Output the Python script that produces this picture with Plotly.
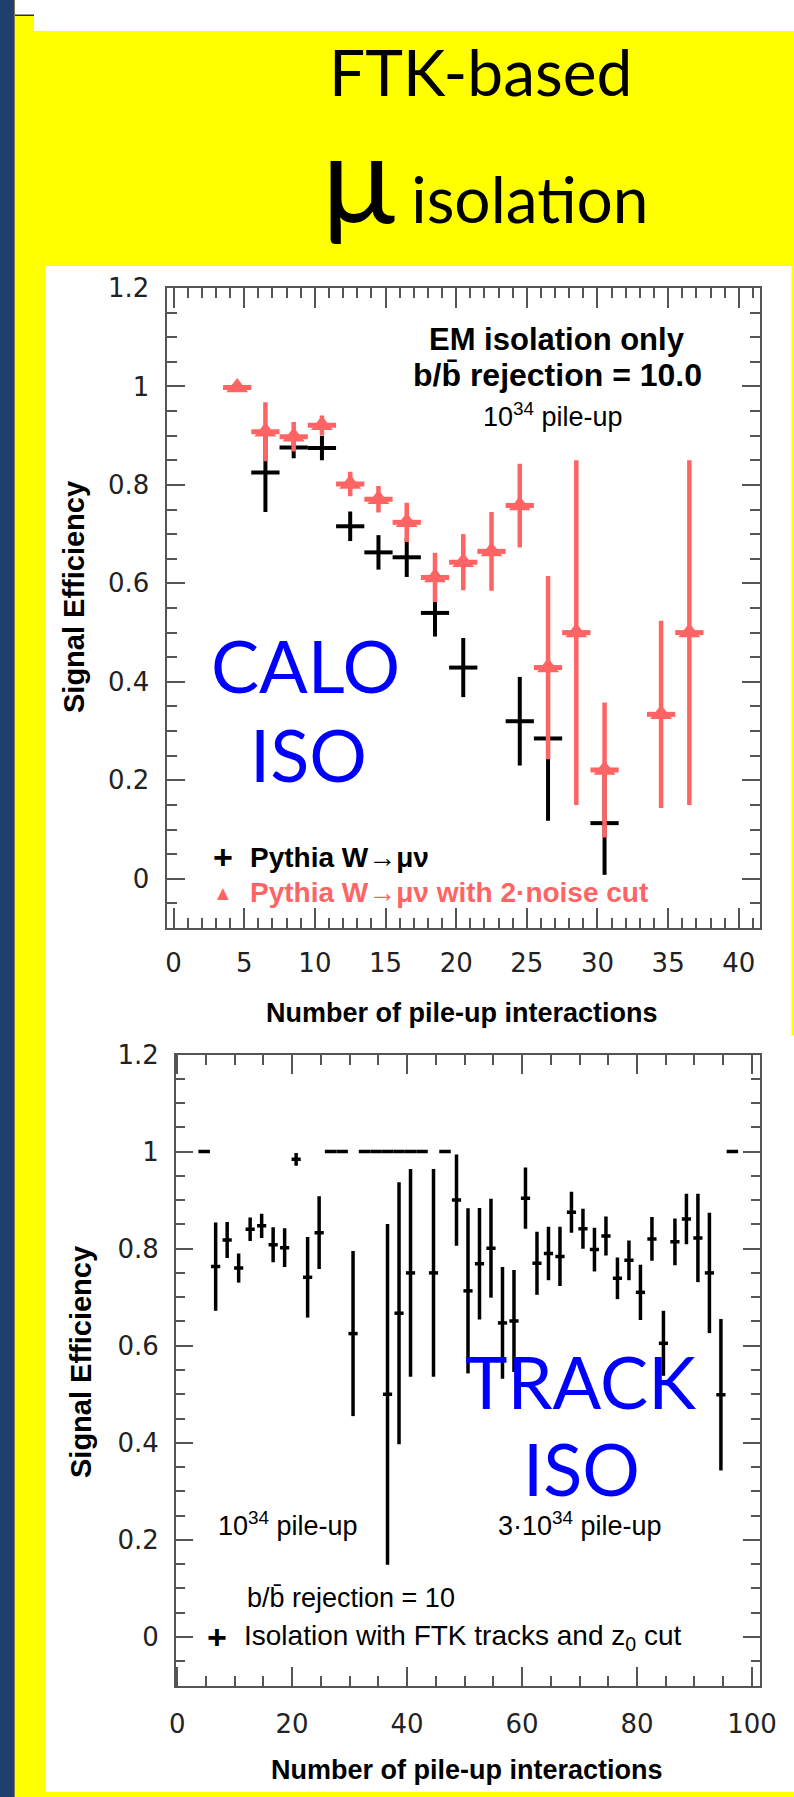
import plotly.graph_objects as go

W, H = 794, 1797

# ---------------- data: top panel (calorimeter isolation) ----------------
calo_x = [6.5, 8.5, 10.5, 12.5, 14.5, 16.5, 18.5, 20.5, 24.5, 26.5, 30.5]
calo_y = [0.825, 0.876, 0.875, 0.716, 0.663, 0.653, 0.540, 0.429, 0.320, 0.285, 0.113]
calo_err = [0.080, 0.022, 0.025, 0.030, 0.035, 0.040, 0.048, 0.060, 0.090, 0.167, 0.105]

noise_x = [4.5, 6.5, 8.5, 10.5, 12.5, 14.5, 16.5, 18.5, 20.5, 22.5, 24.5, 26.5, 28.5, 30.5, 34.5, 36.5]
noise_y = [0.998, 0.908, 0.898, 0.921, 0.802, 0.771, 0.724, 0.612, 0.643, 0.665, 0.758, 0.429, 0.500, 0.221, 0.334, 0.500]
noise_err = [0.0, 0.060, 0.030, 0.020, 0.025, 0.027, 0.040, 0.050, 0.057, 0.080, 0.085, 0.186, 0.350, 0.137, 0.190, 0.350]

# ---------------- data: bottom panel (track isolation) ----------------
low_x = [4.7, 6.7, 8.7, 10.7, 12.7, 14.7, 16.7, 18.7, 20.7, 22.7, 24.7, 26.7, 28.7, 30.6,
         32.6, 34.6, 36.6, 38.6, 40.6, 42.6, 46.6]
low_y = [1.0, 0.763, 0.818, 0.760, 0.840, 0.847, 0.808, 0.802, 0.984, 0.741, 0.833, 1.0, 1.0, 0.625,
         1.0, 1.0, 1.0, 1.0, 1.0, 1.0, 1.0]
low_err = [0.0, 0.091, 0.037, 0.030, 0.024, 0.025, 0.036, 0.040, 0.013, 0.083, 0.075, 0.0, 0.0, 0.170,
           0.0, 0.0, 0.0, 0.0, 0.0, 0.0, 0.0]

high_x = [36.6, 38.6, 40.6, 44.6, 48.6, 50.6, 52.6, 54.6, 56.6, 58.6, 60.6, 62.6, 64.6, 66.6, 68.6,
          70.6, 72.6, 74.6, 76.6, 78.6, 80.6, 82.6, 84.6, 86.6, 88.6, 90.6, 92.6, 94.6, 96.6]
high_y = [0.500, 0.667, 0.750, 0.750, 0.900, 0.713, 0.769, 0.801, 0.647, 0.651, 0.904, 0.770, 0.790,
          0.784, 0.875, 0.841, 0.798, 0.826, 0.739, 0.776, 0.710, 0.820, 0.605, 0.814, 0.861, 0.822,
          0.750, 0.499, 1.0]
high_err = [0.351, 0.270, 0.214, 0.214, 0.094, 0.170, 0.115, 0.102, 0.115, 0.105, 0.063, 0.065, 0.055,
            0.061, 0.042, 0.041, 0.045, 0.040, 0.043, 0.041, 0.057, 0.045, 0.067, 0.048, 0.052, 0.091,
            0.124, 0.156, 0.0]

top_xticks = [0, 5, 10, 15, 20, 25, 30, 35, 40]
bot_xticks = [0, 20, 40, 60, 80, 100]
y_ticks = [0, 0.2, 0.4, 0.6, 0.8, 1.0, 1.2]
y_ticklabels = ["0", "0.2", "0.4", "0.6", "0.8", "1", "1.2"]

RED = "#ff6464"
BLUE = "#0000ff"
YELLOW = "#ffff00"
NAVY = "#1f3f6c"
HELV = "Liberation Sans, Arial, sans-serif"
TICKF = "DejaVu Sans, sans-serif"
TITLEF = "Lato, Open Sans, sans-serif"


def px(x):
    return x / W


def py(y):
    return 1 - y / H


fig = go.Figure()

# top panel traces
fig.add_trace(go.Scatter(
    x=calo_x, y=calo_y, mode="markers", xaxis="x", yaxis="y",
    marker=dict(size=1, color="rgba(0,0,0,0)"),
    error_y=dict(type="data", array=calo_err, color="black", thickness=4, width=0),
    error_x=dict(type="constant", value=1.0, color="black", thickness=4, width=0),
    showlegend=False))
fig.add_trace(go.Scatter(
    x=noise_x, y=noise_y, mode="markers", xaxis="x", yaxis="y",
    marker=dict(size=19, symbol="triangle-up", color=RED),
    error_y=dict(type="data", array=noise_err, color=RED, thickness=4.5, width=0),
    error_x=dict(type="constant", value=1.0, color=RED, thickness=5, width=0),
    showlegend=False))

# bottom panel traces (full-bin bars where no vertical error, shorter bars on crosses)
for xs, ys, es in [(low_x, low_y, low_err), (high_x, high_y, high_err)]:
    xe = [1.0 if e == 0 else 0.8 for e in es]
    fig.add_trace(go.Scatter(
        x=xs, y=ys, mode="markers", xaxis="x2", yaxis="y2",
        marker=dict(size=1, color="rgba(0,0,0,0)"),
        error_y=dict(type="data", array=es, color="black", thickness=3.5, width=0),
        error_x=dict(type="data", array=xe, color="black", thickness=3.5, width=0),
        showlegend=False))

axis_common = dict(
    showline=True, linecolor="#555555", linewidth=2, mirror="allticks",
    ticks="inside", tickcolor="#555555", tickwidth=2,
    showgrid=False, zeroline=False, automargin=False,
    tickfont=dict(family=TICKF, size=26, color="#222222"),
)

fig.update_layout(
    width=W, height=H, autosize=False,
    margin=dict(l=0, r=0, t=0, b=0, pad=0, autoexpand=False),
    paper_bgcolor=YELLOW, plot_bgcolor="white",
    xaxis=dict(axis_common, domain=[px(166.5), px(760)], range=[-0.5, 41.5], anchor="y",
               tickvals=top_xticks, ticklen=20, ticklabelstandoff=11,
               minor=dict(dtick=1, tick0=0, ticklen=10, ticks="inside", tickcolor="#555555", tickwidth=2)),
    yaxis=dict(axis_common, domain=[py(928), py(288)], range=[-0.1, 1.2], anchor="x",
               tickvals=y_ticks, ticktext=y_ticklabels, ticklen=18, ticklabelstandoff=10,
               minor=dict(dtick=0.05, tick0=0, ticklen=10, ticks="inside", tickcolor="#555555", tickwidth=2)),
    xaxis2=dict(axis_common, domain=[px(176), px(760)], range=[-0.2, 101.4], anchor="y2",
                tickvals=bot_xticks, ticklen=19, ticklabelstandoff=14,
                minor=dict(dtick=5, tick0=0, ticklen=10, ticks="inside", tickcolor="#555555", tickwidth=2)),
    yaxis2=dict(axis_common, domain=[py(1685.5), py(1054.5)], range=[-0.1, 1.2], anchor="x2",
                tickvals=y_ticks, ticktext=y_ticklabels, ticklen=17, ticklabelstandoff=10,
                minor=dict(dtick=0.05, tick0=0, ticklen=9, ticks="inside", tickcolor="#555555", tickwidth=2)),
)

# background shapes
def rect(x0, y0, x1, y1, color):
    return dict(type="rect", xref="paper", yref="paper", x0=px(x0), x1=px(x1), y0=py(y1), y1=py(y0),
                fillcolor=color, line=dict(width=0), layer="below")

shapes = [
    rect(45.5, 266, W, 1792, "white"),
    rect(791.5, 266, W, 1035, YELLOW),
    rect(34, 0, W, 31, "white"),
    rect(14, 0, 34, 15, "white"),
    rect(14, 14.5, 34, 16, "#333333"),
    rect(0, 0, 14, H, NAVY),
    rect(14, 0, 15, H, "#7f7f55"),
]
fig.update_layout(shapes=shapes)

ann = []


def text(x, y, s, size, color="black", family=HELV, xanchor="center", angle=0):
    ann.append(dict(xref="paper", yref="paper", x=px(x), y=py(y), text=s, showarrow=False,
                    xanchor=xanchor, yanchor="middle", textangle=angle,
                    font=dict(family=family, size=size, color=color)))


# heading
text(480, 72, "FTK-based", 64, family=TITLEF)
text(485, 176, "<span style='font-size:122px'>μ</span> isolation", 64, family=TITLEF)

# top panel texts
text(557, 340, "<b>EM isolation only</b>", 31)
text(557, 375, "<b>b/b\u0304 rejection = 10.0</b>", 32)
text(553, 415, "10<sup>34</sup> pile-up", 27)
text(223, 857, "<b>+</b>", 34)
text(248, 857, "<b>Pythia W→μν</b>", 28, xanchor="left")
text(223, 893, "▲", 20, color=RED)
text(248, 893, "<b>Pythia W→μν with 2·noise cut</b>", 28, color=RED, xanchor="left")
text(305, 665, "CALO", 72, color=BLUE, family=TITLEF)
text(308, 754, "ISO", 72, color=BLUE, family=TITLEF)
text(74, 597, "<b>Signal Efficiency</b>", 29, angle=-90)
text(462, 1013, "<b>Number of pile-up interactions</b>", 27)

# bottom panel texts
text(288, 1524, "10<sup>34</sup> pile-up", 27)
text(580, 1524, "3·10<sup>34</sup> pile-up", 27)
text(351, 1598, "b/b\u0304 rejection = 10", 27)
text(217, 1637, "<b>+</b>", 34)
text(242, 1637, "Isolation with FTK tracks and z<sub>0</sub> cut", 28, xanchor="left")
text(580, 1381, "TRACK", 72, color=BLUE, family=TITLEF)
text(581, 1468, "ISO", 72, color=BLUE, family=TITLEF)
text(81, 1362, "<b>Signal Efficiency</b>", 29, angle=-90)
text(467, 1770, "<b>Number of pile-up interactions</b>", 27)

fig.update_layout(annotations=ann)

fig.write_html("out.html")
